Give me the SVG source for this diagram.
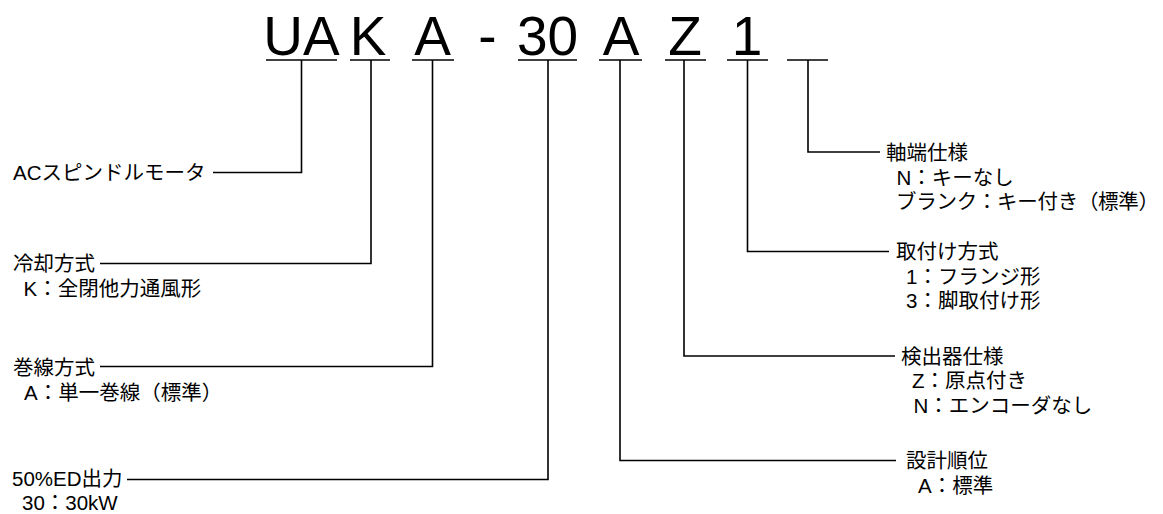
<svg xmlns="http://www.w3.org/2000/svg" width="1163" height="514" viewBox="0 0 1163 514">
<style>
.code{font-family:"Liberation Sans",Arial,sans-serif;font-size:55px;fill:#000;text-anchor:middle}
.t{font-family:"Liberation Sans","Noto Sans CJK JP",sans-serif;font-size:20.5px;fill:#000}
.ul{stroke:#000;stroke-width:1.6;fill:none}
.c{stroke:#000;stroke-width:1.6;fill:none}
</style>
<rect width="1163" height="514" fill="#fff"/>
<g id="code">
<g id="seg-UA"><text class="code" x="301.5" y="55">UA</text><line class="ul" x1="266" y1="60" x2="337" y2="60"/></g>
<g id="seg-K"><text class="code" x="368" y="55">K</text><line class="ul" x1="350" y1="60" x2="390" y2="60"/></g>
<g id="seg-A1"><text class="code" x="432.5" y="55">A</text><line class="ul" x1="412" y1="60" x2="454" y2="60"/></g>
<g id="seg-dash"><text class="code" x="487.5" y="55">-</text></g>
<g id="seg-30"><text class="code" x="547.5" y="55">30</text><line class="ul" x1="518" y1="60" x2="577" y2="60"/></g>
<g id="seg-A2"><text class="code" x="621" y="55">A</text><line class="ul" x1="599" y1="60" x2="642" y2="60"/></g>
<g id="seg-Z"><text class="code" x="685" y="55">Z</text><line class="ul" x1="665" y1="60" x2="706" y2="60"/></g>
<g id="seg-1"><text class="code" x="747" y="55">1</text><line class="ul" x1="727" y1="60" x2="768" y2="60"/></g>
<g id="seg-blank"><line class="ul" x1="787" y1="60" x2="828" y2="60"/></g>
</g>
<g id="connectors">
<polyline class="c" points="301.5,60 301.5,172.5 213,172.5"/>
<polyline class="c" points="371,60 371,263.5 100,263.5"/>
<polyline class="c" points="432.5,60 432.5,366.5 100,366.5"/>
<polyline class="c" points="548,60 548,479.5 127,479.5"/>
<polyline class="c" points="620,60 620,460.5 896,460.5"/>
<polyline class="c" points="684,60 684,356 895,356"/>
<polyline class="c" points="747.5,60 747.5,251.5 889,251.5"/>
<polyline class="c" points="808,60 808,152 880,152"/>
</g>
<g id="label-ac"><text class="t" x="13" y="180">ACスピンドルモータ</text></g>
<g id="label-cooling"><text class="t" x="13" y="271">冷却方式</text><text class="t" x="23.5" y="296">K：全閉他力通風形</text></g>
<g id="label-winding"><text class="t" x="13" y="375">巻線方式</text><text class="t" x="24" y="400">A：単一巻線（標準）</text></g>
<g id="label-output"><text class="t" x="12" y="486">50%ED出力</text><text class="t" x="22" y="510">30：30kW</text></g>
<g id="label-design"><text class="t" x="906" y="468">設計順位</text><text class="t" x="918" y="493">A：標準</text></g>
<g id="label-detector"><text class="t" x="901" y="364">検出器仕様</text><text class="t" x="912" y="388">Z：原点付き</text><text class="t" x="913.5" y="413">N：エンコーダなし</text></g>
<g id="label-mount"><text class="t" x="896" y="259">取付け方式</text><text class="t" x="906" y="284">1：フランジ形</text><text class="t" x="906" y="308">3：脚取付け形</text></g>
<g id="label-shaft"><text class="t" x="886" y="160">軸端仕様</text><text class="t" x="896.5" y="185">N：キーなし</text><text class="t" x="896" y="209" textLength="263" lengthAdjust="spacing">ブランク：キー付き（標準）</text></g>
</svg>
